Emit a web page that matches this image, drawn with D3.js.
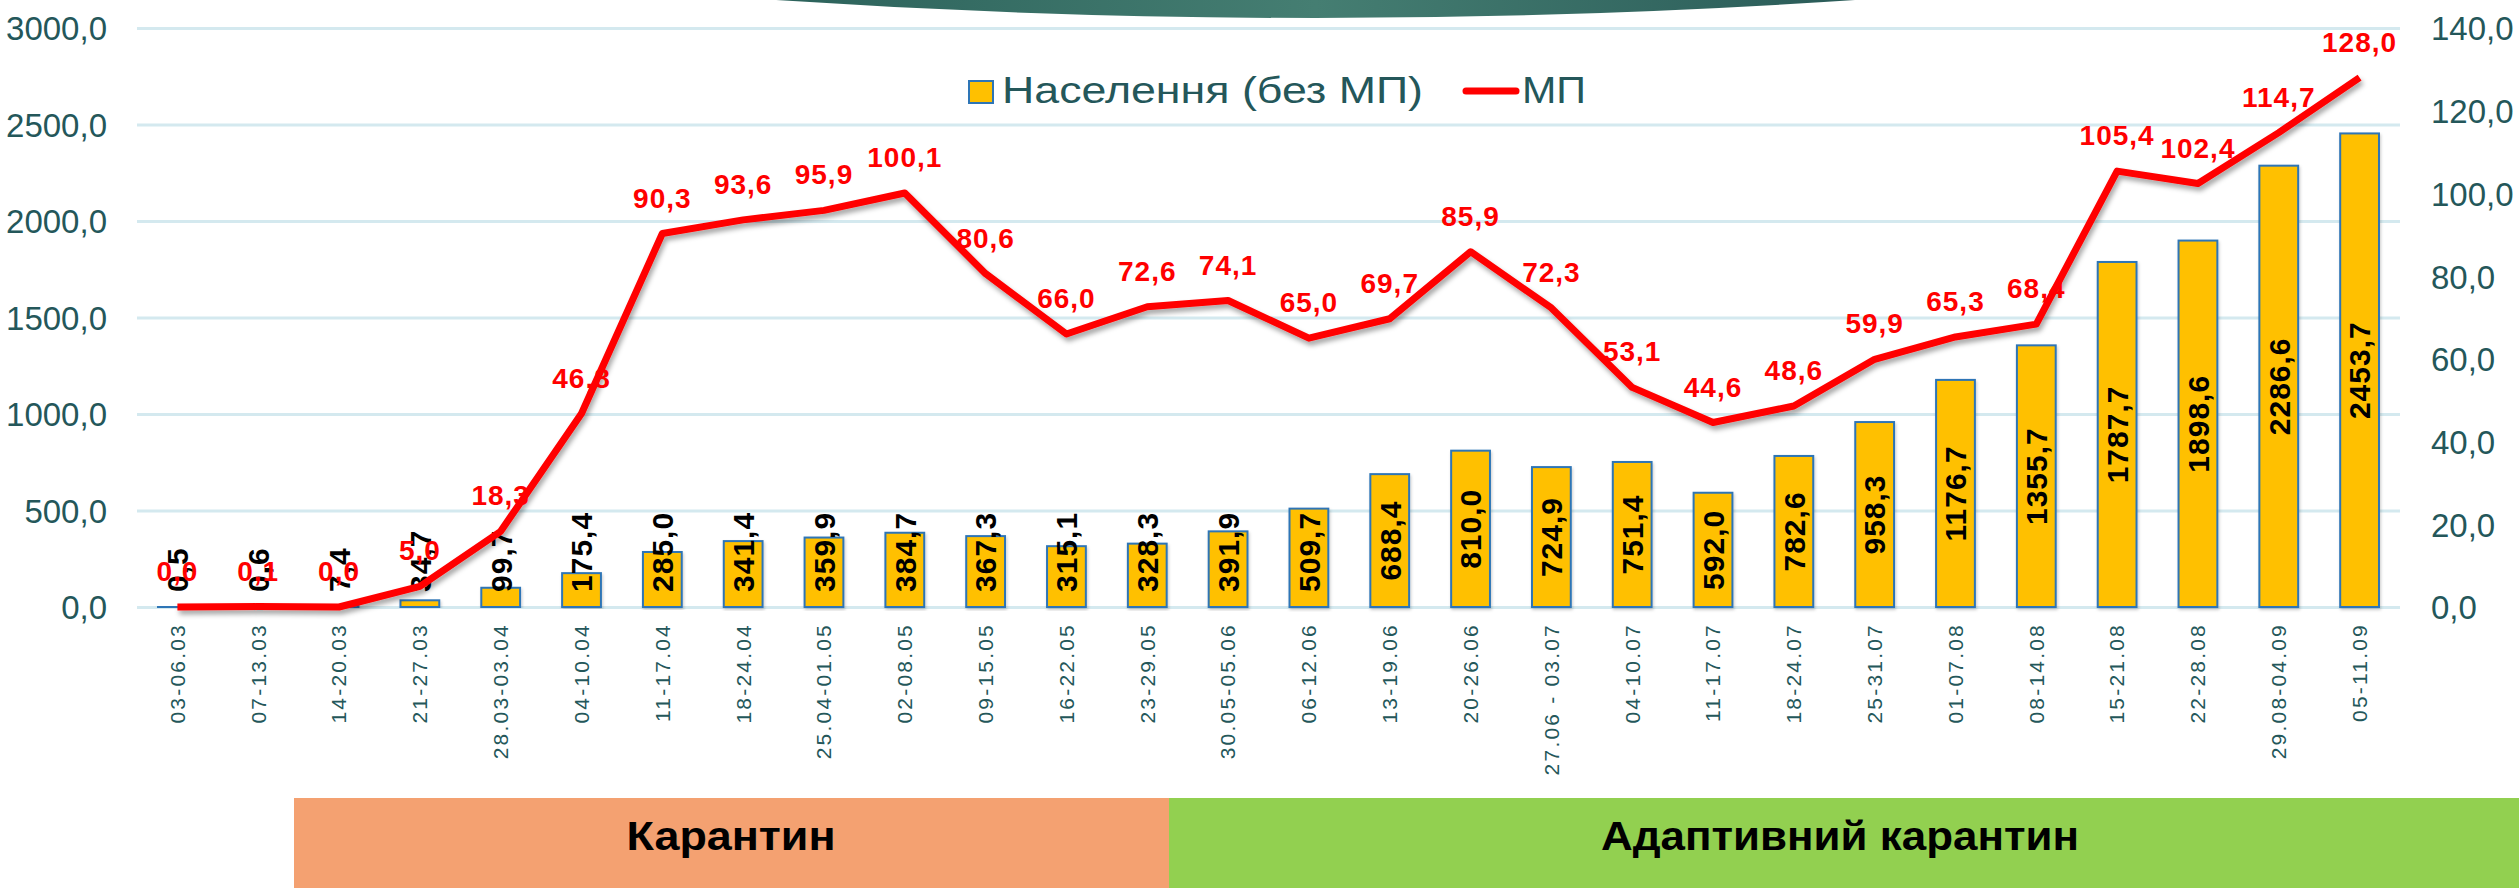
<!DOCTYPE html>
<html><head><meta charset="utf-8">
<script src="https://cdn.jsdelivr.net/npm/d3@7"></script>
<style>body{margin:0;background:#fff;overflow:hidden} svg{display:block}</style>
</head><body>
<svg id="c" width="2519" height="888"></svg>
<script>
const categories = ["03-06.03","07-13.03","14-20.03","21-27.03","28.03-03.04","04-10.04","11-17.04","18-24.04","25.04-01.05","02-08.05","09-15.05","16-22.05","23-29.05","30.05-05.06","06-12.06","13-19.06","20-26.06","27.06 - 03.07","04-10.07","11-17.07","18-24.07","25-31.07","01-07.08","08-14.08","15-21.08","22-28.08","29.08-04.09","05-11.09"];
const populationValues = [0.5,0.6,7.4,34.7,99.7,175.4,285.0,341.4,359.9,384.7,367.3,315.1,328.3,391.9,509.7,688.4,810.0,724.9,751.4,592.0,782.6,958.3,1176.7,1355.7,1787.7,1898.6,2286.6,2453.7];
const mpValues = [0.0,0.1,0.0,5.0,18.3,46.8,90.3,93.6,95.9,100.1,80.6,66.0,72.6,74.1,65.0,69.7,85.9,72.3,53.1,44.6,48.6,59.9,65.3,68.4,105.4,102.4,114.7,128.0];
const leftTicks = [0,500,1000,1500,2000,2500,3000];
const rightTicks = [0,20,40,60,80,100,120,140];
const seriesNames = ["Населення (без МП)","МП"];
const phaseLabels = ["Карантин","Адаптивний карантин"];

const fmt = v => v.toFixed(1).replace(".", ",");
const svg = d3.select("#c");
const L = 137, R = 2400, T = 28, B = 607;
const axisColor = "#24575a";
const FONT = "Liberation Sans, Arial, sans-serif";

const defs = svg.append("defs");
const g1 = defs.append("linearGradient").attr("id","topg").attr("x1","0").attr("x2","1");
g1.append("stop").attr("offset","0").attr("stop-color","#2c625b");
g1.append("stop").attr("offset","0.5").attr("stop-color","#457e72");
g1.append("stop").attr("offset","1").attr("stop-color","#2a5b58");
const f = defs.append("filter").attr("id","sh").attr("x","-5%").attr("y","-20%").attr("width","110%").attr("height","140%");
f.append("feDropShadow").attr("dx",2).attr("dy",4).attr("stdDeviation",2.5).attr("flood-color","#000").attr("flood-opacity",0.35);
const fb = defs.append("filter").attr("id","shb").attr("x","-20%").attr("y","-5%").attr("width","140%").attr("height","110%");
fb.append("feDropShadow").attr("dx",1).attr("dy",2).attr("stdDeviation",1.5).attr("flood-color","#000").attr("flood-opacity",0.2);

// top decorative banner
svg.append("path").attr("d","M776,0 Q1315,36 1855,0 Z").attr("fill","url(#topg)");

const x = d3.scaleBand().domain(categories).range([L,R]).paddingInner(0.52).paddingOuter(0.26);
const yL = d3.scaleLinear().domain([0,3000]).range([B,T]);
const yR = d3.scaleLinear().domain([0,140]).range([B,T]);

// gridlines
const gridAxis = d3.axisLeft(yL).tickValues(leftTicks).tickSize(-(R-L)).tickFormat("");
const gg = svg.append("g").attr("transform",`translate(${L},0)`).call(gridAxis);
gg.select(".domain").remove();
gg.selectAll("line").attr("stroke","#d4e9ef").attr("stroke-width",3);

// left axis labels
const la = svg.append("g").attr("transform",`translate(${L},0)`).call(d3.axisLeft(yL).tickValues(leftTicks).tickSize(0).tickPadding(30).tickFormat(fmt));
la.select(".domain").remove();
la.selectAll("text").attr("font-family",FONT).attr("font-size",33).attr("fill",axisColor).attr("dy","0.36em");

// right axis labels
const ra = svg.append("g").attr("transform",`translate(${R},0)`).call(d3.axisRight(yR).tickValues(rightTicks).tickSize(0).tickPadding(31).tickFormat(fmt));
ra.select(".domain").remove();
ra.selectAll("text").attr("font-family",FONT).attr("font-size",33).attr("fill",axisColor).attr("dy","0.36em");

// x axis labels
const xa = svg.append("g").attr("transform",`translate(0,${B})`).call(d3.axisBottom(x).tickSize(0).tickPadding(0));
xa.select(".domain").remove();
xa.selectAll("text")
  .attr("font-family",FONT).attr("font-size",21).attr("fill",axisColor)
  .attr("letter-spacing","2.2px")
  .attr("text-anchor","end").attr("dy","0.35em").attr("y",0)
  .attr("transform","translate(0,16) rotate(-90)");

// bars
svg.append("g").selectAll("rect").data(populationValues).join("rect")
  .attr("x",(d,i)=>x(categories[i])).attr("width",x.bandwidth())
  .attr("y",d=>yL(d)).attr("height",d=>B-yL(d))
  .attr("fill","#FFC000").attr("stroke","#2E75B6").attr("stroke-width",2)
  .attr("filter","url(#shb)");

// bar labels
const bl = svg.append("g").selectAll("text").data(populationValues).join("text")
  .text(d=>fmt(d))
  .attr("font-family",FONT).attr("font-weight","bold").attr("font-size",30)
  .attr("letter-spacing","1px")
  .attr("fill","#000").attr("text-anchor","middle").attr("dy","0.36em");
bl.each(function(d,i){
  const len = this.getComputedTextLength();
  const cx = x(categories[i]) + x.bandwidth()/2;
  const cy = Math.min((yL(d)+B)/2, 592 - len/2);
  d3.select(this).attr("transform",`translate(${cx},${cy}) rotate(-90)`);
});

// line
const line = d3.line().x((d,i)=>x(categories[i])+x.bandwidth()/2).y(d=>yR(d));
svg.append("path").datum(mpValues).attr("d",line)
  .attr("fill","none").attr("stroke","#FF0000").attr("stroke-width",7)
  .attr("stroke-linejoin","round").attr("filter","url(#sh)");

// line labels
svg.append("g").selectAll("text").data(mpValues).join("text")
  .text(d=>fmt(d))
  .attr("x",(d,i)=>x(categories[i])+x.bandwidth()/2).attr("y",d=>yR(d)-36)
  .attr("dy","0.36em").attr("text-anchor","middle")
  .attr("font-family",FONT).attr("font-weight","bold").attr("font-size",28)
  .attr("letter-spacing","1px")
  .attr("fill","#FF0000");

// legend
const lg = svg.append("g");
lg.append("rect").attr("x",969).attr("y",81).attr("width",24).attr("height",22)
  .attr("fill","#FFC000").attr("stroke","#2E75B6").attr("stroke-width",2);
lg.append("text").attr("x",1002).attr("y",103).text(seriesNames[0])
  .attr("font-family",FONT).attr("font-size",36).attr("fill",axisColor)
  .attr("textLength",421).attr("lengthAdjust","spacingAndGlyphs");
lg.append("line").attr("x1",1466).attr("x2",1516).attr("y1",91).attr("y2",91)
  .attr("stroke","#FF0000").attr("stroke-width",7).attr("stroke-linecap","round");
lg.append("text").attr("x",1522).attr("y",103).text(seriesNames[1])
  .attr("font-family",FONT).attr("font-size",36).attr("fill",axisColor)
  .attr("textLength",64).attr("lengthAdjust","spacingAndGlyphs");

// phase bands
const bands = [{x0:294,x1:1169,fill:"#F4A171",tx:731,tw:209},{x0:1169,x1:2519,fill:"#92D050",tx:1840,tw:478}];
bands.forEach((b,i)=>{
  svg.append("rect").attr("x",b.x0).attr("y",798).attr("width",b.x1-b.x0).attr("height",90).attr("fill",b.fill);
  svg.append("text").attr("x",b.tx).attr("y",850).attr("text-anchor","middle").text(phaseLabels[i])
    .attr("font-family",FONT).attr("font-weight","bold").attr("font-size",40)
    .attr("fill","#000").attr("textLength",b.tw).attr("lengthAdjust","spacingAndGlyphs");
});
</script>
</body></html>
